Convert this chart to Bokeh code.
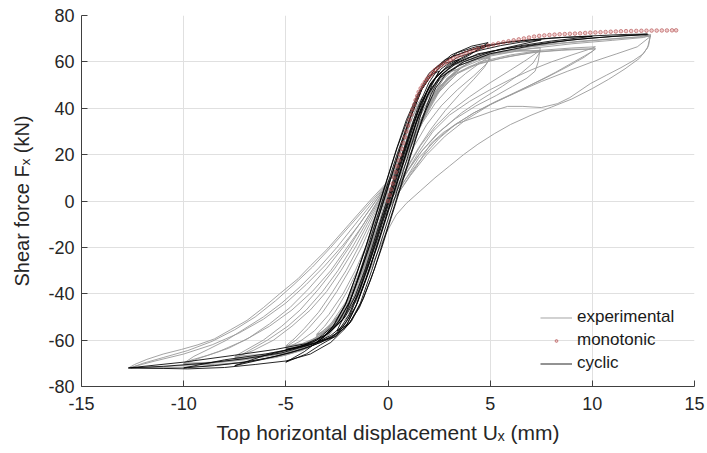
from bokeh.plotting import figure
from bokeh.models import Range1d, FixedTicker, Legend, LegendItem
from bokeh.embed import file_html
from bokeh.resources import INLINE

# ---------------- data ----------------
x_ticks = [-15, -10, -5, 0, 5, 10, 15]
y_ticks = [-80, -60, -40, -20, 0, 20, 40, 60, 80]
x_tick_labels = ["-15", "-10", "-5", "0", "5", "10", "15"]
y_tick_labels = ["-80", "-60", "-40", "-20", "0", "20", "40", "60", "80"]

# monotonic analysis (red points)
mono_x = [0.0, 0.08, 0.15, 0.23, 0.3, 0.38, 0.45, 0.53, 0.6, 0.68, 0.75, 0.83, 0.9, 0.98, 1.05, 1.13,
          1.2, 1.28, 1.35, 1.43, 1.5, 1.6, 1.7, 1.8, 1.9, 2.0, 2.1, 2.2, 2.3, 2.45, 2.6, 2.75, 2.9,
          3.05, 3.2, 3.4, 3.6, 3.8, 4.0, 4.2, 4.4, 4.65, 4.9, 5.15, 5.4, 5.65, 5.9, 6.15, 6.4, 6.65,
          6.9, 7.15, 7.4, 7.65, 7.9, 8.15, 8.4, 8.65, 8.9, 9.15, 9.4, 9.65, 9.9, 10.15, 10.4, 10.65,
          10.9, 11.15, 11.4, 11.65, 11.9, 12.15, 12.4, 12.65, 12.9, 13.15, 13.4, 13.65, 13.9, 14.1]
mono_y = [0.0, 2.5, 5.0, 7.5, 10.0, 12.5, 15.0, 17.5, 20.0, 22.5, 25.0, 27.5, 30.0, 32.5, 35.0, 37.3,
          39.5, 41.5, 43.5, 45.3, 47.0, 48.6, 50.0, 51.3, 52.5, 53.5, 54.5, 55.5, 56.5, 57.5, 58.5, 59.3, 60.0,
          60.8, 61.5, 62.3, 63.0, 63.8, 64.5, 65.1, 65.7, 66.4, 67.0, 67.5, 68.0, 68.5, 68.9, 69.3, 69.7, 70.1,
          70.5, 70.9, 71.2, 71.4, 71.6, 71.75, 71.9, 72.0, 72.1, 72.2, 72.3, 72.45, 72.6, 72.7, 72.8, 72.9,
          73.0, 73.1, 73.2, 73.25, 73.3, 73.35, 73.4, 73.45, 73.5, 73.5, 73.55, 73.55, 73.6, 73.6]

# experimental loops (grey), each a list of (U, F) points
exp_loop_1 = [(0.1, 9.5), (-0.9, 0), (-1.9, -10), (-3.0, -21), (-3.8, -28), (-4.4, -33.5), (-5.3, -40),
              (-6.1, -46), (-6.9, -51.5), (-7.7, -55.5), (-8.5, -59.5), (-9.3, -62), (-10.1, -64),
              (-11.0, -66), (-11.8, -68.3), (-12.4, -70.5), (-12.7, -72),
              (-11.0, -71.5), (-9.0, -70.3), (-7.0, -68.5), (-5.0, -65.5), (-3.6, -61), (-2.7, -55),
              (-2.0, -50), (-1.3, -38), (-0.7, -26), (-0.1, -14), (0.4, -6), (0.9, -1),
              (1.6, 4.5), (2.3, 10), (3.0, 15), (3.7, 20), (4.4, 24.5), (5.2, 29), (6.0, 33), (7.0, 37),
              (8.0, 40.5), (9.0, 44), (10.0, 48.5), (10.8, 52.5), (11.6, 57), (12.3, 61.5), (12.7, 66),
              (12.85, 71.5),
              (12.5, 70.5), (11.0, 69.3), (9.0, 67.8), (7.0, 65.8), (5.0, 62.5), (3.6, 57.5), (2.6, 50),
              (1.9, 39), (1.3, 27), (0.7, 17), (0.1, 9.5)]
exp_loop_2 = [(0.1, 9), (-0.8, 0), (-1.8, -10), (-2.8, -20), (-3.7, -28.5), (-4.6, -36), (-5.5, -43),
              (-6.5, -50), (-7.5, -55.5), (-8.6, -60.5), (-9.8, -64.5), (-11.0, -67.5), (-12.0, -70),
              (-12.6, -72),
              (-11.5, -72.2), (-10.0, -71.8), (-8.0, -70.5), (-6.0, -68), (-4.5, -64.5), (-3.3, -59.5),
              (-2.5, -53), (-1.9, -44), (-1.4, -34), (-0.9, -23), (-0.5, -13), (-0.2, -4),
              (0.4, 4), (1.0, 11), (1.6, 18), (2.1, 24.8), (2.7, 29.5), (3.4, 33.4), (4.5, 36.8),
              (5.2, 39), (5.85, 40.8), (6.6, 40.8), (7.5, 40.3), (8.3, 42), (8.9, 44.6), (9.9, 50.6),
              (10.7, 54.3), (11.4, 57.5), (12.0, 60.5), (12.5, 63.5), (12.75, 67), (12.85, 71.8),
              (12.3, 70.8), (10.5, 69.5), (8.5, 68), (6.5, 66), (4.7, 62.5), (3.4, 57), (2.5, 49),
              (1.8, 38), (1.2, 26), (0.6, 16), (0.1, 9)]
exp_loop_3 = [(0.1, 9), (-0.7, 0), (-1.6, -10), (-2.5, -20), (-3.4, -29), (-4.3, -37), (-5.2, -44),
              (-6.1, -50), (-7.0, -55), (-7.9, -60), (-8.8, -64), (-9.5, -67), (-10.0, -70),
              (-8.5, -69.5), (-7.0, -68), (-5.5, -65.5), (-4.0, -61.5), (-3.0, -56), (-2.2, -47),
              (-1.6, -37), (-1.1, -26), (-0.7, -16), (-0.2, -5),
              (0.4, 2), (1.0, 10), (1.7, 19), (2.5, 27), (3.3, 33), (4.2, 38), (5.2, 42.5), (6.2, 46.5),
              (7.2, 51), (8.2, 55.5), (9.0, 59.5), (9.6, 62.5), (10.0, 64.5), (10.15, 65.7),
              (8.5, 65), (7.0, 64), (5.5, 61.5), (4.0, 58), (3.0, 53), (2.2, 44), (1.6, 33), (1.0, 22),
              (0.5, 14), (0.1, 9)]
exp_loop_4 = [(0.1, 9), (-0.6, 0), (-1.4, -10), (-2.2, -20), (-3.0, -29), (-3.9, -38), (-4.8, -46),
              (-5.8, -53), (-6.8, -59), (-7.8, -63.5), (-8.8, -66.5), (-9.6, -68.5), (-10.0, -70),
              (-8.8, -70), (-7.3, -68.5), (-5.8, -66.5), (-4.4, -63), (-3.3, -58), (-2.4, -50),
              (-1.8, -40), (-1.3, -29), (-0.8, -18), (-0.3, -6),
              (0.3, 3), (0.9, 12), (1.5, 21), (2.2, 30), (3.0, 37), (4.0, 43), (5.0, 48), (6.0, 52.5),
              (7.0, 56.5), (8.0, 60), (9.0, 63), (9.8, 65.3), (10.15, 66.5),
              (9.0, 66), (7.5, 65), (6.0, 63), (4.5, 60), (3.3, 55), (2.4, 46), (1.7, 35), (1.1, 24),
              (0.6, 15), (0.1, 9)]
exp_loop_5 = [(0.1, 9), (-0.5, 0), (-1.2, -10), (-1.9, -20), (-2.6, -29), (-3.4, -38), (-4.3, -47),
              (-5.2, -54), (-6.1, -60), (-6.9, -64), (-7.5, -67),
              (-6.0, -66), (-4.8, -64), (-3.7, -60), (-2.8, -53), (-2.1, -44), (-1.5, -34), (-1.0, -23),
              (-0.6, -14), (-0.2, -5),
              (0.3, 3), (0.9, 12), (1.6, 21), (2.4, 29), (3.3, 35.5), (4.3, 41), (5.3, 45.5), (6.1, 49.5),
              (6.8, 53), (7.2, 56), (7.35, 60), (7.45, 66),
              (6.0, 65), (4.8, 63.5), (3.7, 60), (2.8, 54), (2.1, 44), (1.5, 33), (1.0, 23), (0.5, 15),
              (0.1, 9)]
exp_loop_6 = [(0.1, 9), (-0.4, 0), (-1.0, -10), (-1.6, -20), (-2.3, -30), (-3.0, -39), (-3.8, -47),
              (-4.7, -54), (-5.6, -60), (-6.6, -64.5), (-7.5, -67.5),
              (-6.2, -67), (-5.0, -65), (-3.9, -61.5), (-3.0, -56), (-2.3, -48), (-1.7, -38), (-1.2, -27),
              (-0.7, -16), (-0.2, -5),
              (0.4, 5), (1.0, 15), (1.6, 24), (2.3, 32), (3.1, 39), (4.0, 45), (5.0, 51), (6.0, 56.5),
              (6.8, 61), (7.45, 65),
              (6.2, 64.5), (5.0, 63), (3.9, 59.5), (2.9, 53), (2.2, 45), (1.6, 35), (1.1, 25), (0.6, 16),
              (0.1, 9)]
exp_loop_7 = [(0.1, 9), (-0.3, 0), (-0.8, -10), (-1.3, -20), (-1.9, -30), (-2.5, -39), (-3.2, -48),
              (-3.9, -55), (-4.5, -60), (-5.0, -63),
              (-4.0, -61.5), (-3.2, -58), (-2.5, -52), (-1.9, -43), (-1.4, -33), (-0.9, -22), (-0.5, -13),
              (-0.1, -3),
              (0.3, 5), (0.8, 15), (1.3, 24), (1.9, 33), (2.6, 41), (3.4, 48), (4.2, 54), (4.8, 59),
              (5.0, 62),
              (4.0, 61), (3.2, 58.5), (2.5, 53), (1.9, 44), (1.4, 34), (0.9, 24), (0.5, 16), (0.1, 9)]
exp_loop_8 = [(0.1, 9), (-0.25, 0), (-0.7, -10), (-1.1, -20), (-1.6, -30), (-2.2, -40), (-2.9, -49),
              (-3.6, -56), (-4.3, -60.5), (-5.0, -63.5),
              (-4.1, -62.5), (-3.3, -59.5), (-2.6, -54), (-2.0, -45), (-1.5, -35), (-1.0, -24), (-0.6, -14),
              (-0.1, -2),
              (0.3, 6), (0.7, 15), (1.2, 25), (1.7, 34), (2.3, 42), (3.0, 49), (3.8, 55), (4.5, 59.5),
              (5.0, 62.5),
              (4.1, 62), (3.3, 59.5), (2.6, 54.5), (2.0, 46), (1.5, 36), (1.0, 25), (0.5, 16), (0.1, 9)]
exp_loop_9 = [(0.1, 9), (-0.2, 0), (-0.55, -10), (-0.9, -20), (-1.3, -30), (-1.8, -40), (-2.4, -49),
              (-3.0, -55), (-3.5, -58),
              (-2.8, -55.5), (-2.2, -50), (-1.7, -42), (-1.2, -32), (-0.8, -22), (-0.4, -12), (-0.1, -2),
              (0.25, 6), (0.6, 15), (1.0, 25), (1.4, 34), (1.9, 42), (2.5, 49), (3.1, 54), (3.5, 57),
              (2.8, 55), (2.2, 49), (1.7, 41), (1.2, 31), (0.8, 22), (0.4, 14), (0.1, 9)]
exp_loop_10 = [(0.1, 9), (-0.15, 0), (-0.45, -10), (-0.75, -20), (-1.1, -30), (-1.5, -40), (-2.0, -47),
               (-2.5, -52),
               (-2.0, -48), (-1.6, -41), (-1.2, -32), (-0.8, -22), (-0.4, -12), (-0.1, -2),
               (0.2, 6), (0.5, 15), (0.85, 25), (1.2, 34), (1.6, 42), (2.1, 48), (2.5, 52),
               (2.0, 48), (1.6, 41), (1.2, 32), (0.8, 23), (0.4, 14), (0.1, 9)]
exp_loop_11 = [(0.1, 9), (-0.6, 0), (-1.4, -10), (-2.2, -19), (-3.1, -28), (-4.0, -36), (-5.0, -44),
               (-6.1, -51), (-7.3, -57), (-8.6, -62), (-10.0, -66), (-11.4, -69), (-12.7, -72),
               (-11.0, -72), (-9.0, -71.3), (-7.0, -69.5), (-5.0, -66.5), (-3.8, -63), (-2.9, -58),
               (-2.2, -50), (-1.6, -40), (-1.1, -29), (-0.6, -17), (-0.2, -7),
               (0.4, 2), (1.1, 11), (1.9, 20), (2.8, 28), (3.8, 35), (5.0, 41.5), (6.2, 46.5), (7.5, 51.5),
               (8.8, 56), (10.0, 60), (11.2, 63.5), (12.2, 66.5), (12.85, 71),
               (11.5, 70.3), (9.5, 69), (7.5, 67.3), (5.5, 64.5), (4.0, 60), (2.9, 53), (2.1, 42),
               (1.5, 31), (0.9, 20), (0.4, 13), (0.1, 9)]
exp_loop_12 = [(0.1, 9), (-0.5, 0), (-1.2, -10), (-2.0, -20), (-2.8, -30), (-3.7, -39), (-4.7, -47),
               (-5.8, -54), (-7.0, -60), (-8.3, -65), (-9.3, -68), (-10.0, -70.5),
               (-8.5, -70.5), (-7.0, -69.5), (-5.5, -67.5), (-4.2, -64.5), (-3.2, -60), (-2.4, -53),
               (-1.8, -44), (-1.3, -33), (-0.8, -21), (-0.3, -9),
               (0.3, 1), (0.9, 10), (1.5, 18.5), (2.3, 26), (3.2, 32.5), (4.2, 38), (5.3, 43), (6.5, 48),
               (7.7, 53), (8.8, 58), (9.6, 62), (10.15, 65.5),
               (9.0, 65.5), (7.5, 64.5), (6.0, 62.5), (4.5, 59.5), (3.4, 55), (2.5, 47), (1.8, 36),
               (1.2, 25), (0.6, 15), (0.1, 9)]
exp_loop_13 = [(0.1, 9), (-0.45, 0), (-1.1, -10), (-1.75, -20), (-2.45, -30), (-3.2, -39), (-4.0, -47),
               (-4.9, -54), (-5.9, -60), (-6.8, -64.5), (-7.5, -68),
               (-6.3, -67.5), (-5.0, -65.5), (-3.9, -62.5), (-3.0, -57.5), (-2.3, -50), (-1.7, -40),
               (-1.2, -29), (-0.7, -18), (-0.2, -6),
               (0.35, 4), (0.95, 13), (1.7, 22), (2.6, 30.5), (3.6, 38), (4.6, 44), (5.6, 49.5), (6.5, 55),
               (7.1, 59.5), (7.45, 64.5),
               (6.3, 65), (5.0, 63.5), (3.8, 60.5), (2.9, 55), (2.2, 47), (1.6, 37), (1.1, 26), (0.6, 16),
               (0.1, 9)]
exp_loop_14 = [(0.1, 9), (-0.35, 0), (-0.9, -10), (-1.45, -20), (-2.05, -30), (-2.7, -39), (-3.4, -48),
               (-4.1, -55), (-4.6, -59.5), (-5.0, -62.5),
               (-4.2, -61.5), (-3.4, -58.5), (-2.7, -53), (-2.1, -45), (-1.6, -35), (-1.1, -24), (-0.6, -13),
               (-0.15, -3),
               (0.35, 5), (0.9, 14), (1.5, 23), (2.1, 31), (2.8, 39), (3.5, 46), (4.2, 52.5), (4.7, 57.5),
               (5.0, 61.5),
               (4.2, 61), (3.4, 58), (2.7, 52.5), (2.1, 44), (1.5, 33), (1.0, 23), (0.5, 15), (0.1, 9)]
exp_loop_15 = [(0.1, 9), (-0.25, 0), (-0.65, -10), (-1.05, -20), (-1.5, -30), (-2.0, -39), (-2.6, -48),
               (-3.1, -54), (-3.5, -57.5),
               (-2.9, -55.5), (-2.3, -51), (-1.8, -44), (-1.3, -34), (-0.9, -24), (-0.45, -13), (-0.1, -3),
               (0.3, 6), (0.7, 16), (1.1, 26), (1.6, 35), (2.1, 43), (2.7, 50), (3.2, 54.5), (3.5, 57),
               (2.9, 55.5), (2.3, 50), (1.8, 42), (1.3, 32), (0.9, 23), (0.45, 14), (0.1, 9)]
exp_loop_16 = [(0.1, 9), (-0.1, 0), (-0.35, -10), (-0.6, -20), (-0.9, -30), (-1.25, -38), (-1.6, -44),
               (-1.5, -42), (-1.2, -35), (-0.9, -27), (-0.55, -17), (-0.25, -8), (-0.05, -1),
               (0.2, 7), (0.45, 16), (0.75, 25), (1.05, 33), (1.4, 40), (1.7, 45),
               (1.45, 42), (1.15, 35), (0.8, 26), (0.45, 17), (0.1, 9)]

# cyclic analysis loops (black)
cyc_loop_1 = [(-2.5, -56), (-1.9, -53), (-1.35, -44), (-0.8, -30), (-0.25, -15), (0.25, -1), (0.75, 13),
              (1.25, 27), (1.7, 40), (2.15, 50), (2.5, 56), (2.0, 54), (1.5, 46), (0.95, 33), (0.4, 19),
              (-0.1, 5), (-0.6, -9), (-1.1, -23), (-1.6, -37), (-2.05, -48), (-2.5, -56)]
cyc_loop_2 = [(-3.5, -61), (-2.7, -58.5), (-2.0, -54), (-1.4, -46), (-0.85, -34), (-0.3, -20), (0.2, -6),
              (0.7, 8), (1.2, 22), (1.65, 35), (2.1, 46), (2.6, 54), (3.1, 58.5), (3.5, 61), (2.8, 59.5),
              (2.15, 54.5), (1.55, 47), (1.0, 36), (0.45, 23), (-0.05, 9), (-0.55, -5), (-1.05, -19),
              (-1.55, -32), (-2.05, -44), (-2.6, -53), (-3.1, -58.5), (-3.5, -61)]
cyc_loop_3 = [(-5.0, -64), (-4.2, -62.5), (-3.5, -61), (-2.8, -58), (-2.1, -53), (-1.55, -45), (-1.05, -33),
              (-0.5, -19), (0.0, -5), (0.5, 9), (1.0, 23), (1.45, 36), (1.9, 47), (2.4, 54), (3.0, 59),
              (4.0, 63.5), (5.0, 67.5), (4.3, 66.5), (3.4, 64), (2.6, 59), (2.0, 51), (1.45, 40), (0.95, 27),
              (0.4, 13), (-0.1, -1), (-0.6, -15), (-1.1, -29), (-1.6, -41), (-2.2, -51), (-2.9, -57),
              (-3.6, -61.5), (-4.3, -63), (-5.0, -64)]
cyc_loop_4 = [(-5.0, -69.5), (-4.0, -66), (-3.3, -62), (-2.5, -58), (-1.9, -50), (-1.4, -39), (-0.9, -26),
              (-0.4, -12), (0.1, 2), (0.6, 16), (1.1, 30), (1.6, 42), (2.2, 52), (3.0, 58.5), (4.0, 63),
              (4.9, 68.3), (4.1, 66.8), (3.1, 63), (2.3, 57), (1.65, 48), (1.1, 36), (0.6, 23), (0.1, 9),
              (-0.4, -5), (-0.9, -19), (-1.4, -32), (-1.9, -44), (-2.5, -53), (-3.2, -59), (-4.1, -65),
              (-5.0, -69.5)]
cyc_loop_5 = [(-7.5, -71), (-6.0, -68), (-4.8, -65.5), (-3.6, -62), (-2.6, -58.5), (-1.8, -52), (-1.2, -42),
              (-0.65, -29), (-0.15, -15), (0.35, -1), (0.85, 13), (1.35, 27), (1.85, 39), (2.35, 49),
              (2.9, 55.5), (3.7, 60), (4.6, 63), (5.5, 65.5), (6.5, 67.5), (7.5, 69.5), (6.5, 68.5),
              (5.5, 67), (4.5, 65), (3.4, 62), (2.6, 57), (2.0, 49), (1.5, 39), (1.0, 26), (0.5, 12),
              (0.0, -2), (-0.5, -16), (-1.0, -29), (-1.5, -41), (-2.1, -50), (-2.9, -57), (-3.7, -61),
              (-4.8, -64), (-6.0, -66.5), (-7.5, -71)]
cyc_loop_6 = [(-10.0, -72), (-8.5, -71), (-7.0, -69.5), (-5.5, -67), (-4.2, -64), (-3.3, -61), (-2.5, -57),
              (-1.9, -49), (-1.4, -38), (-0.9, -25), (-0.4, -11), (0.1, 3), (0.6, 17), (1.1, 30), (1.6, 42),
              (2.1, 51), (2.8, 57), (3.8, 61.5), (5.0, 64.5), (6.5, 67), (8.0, 69), (10.0, 71), (8.5, 70.5),
              (7.0, 69.5), (5.5, 68), (4.0, 65), (2.8, 61), (2.0, 55), (1.45, 46), (0.9, 35), (0.4, 22),
              (-0.1, 8), (-0.6, -6), (-1.1, -20), (-1.6, -33), (-2.1, -45), (-2.7, -54), (-3.5, -60),
              (-4.5, -63.5), (-6.0, -66), (-8.0, -68.5), (-10.0, -72)]
cyc_loop_7 = [(-12.7, -72), (-11.0, -71.3), (-9.0, -70), (-7.0, -68), (-5.2, -65.5), (-3.8, -62), (-2.8, -59),
              (-2.0, -53), (-1.5, -44), (-1.0, -32), (-0.5, -18), (0.0, -4), (0.5, 10), (1.0, 24), (1.5, 37),
              (2.0, 47), (2.6, 54.5), (3.3, 59), (4.4, 63.5), (6.0, 66), (8.0, 68.5), (10.0, 70.3), (12.7, 72),
              (11.5, 71.8), (10.0, 71.2), (8.0, 70.3), (6.0, 68.8), (4.5, 66.5), (3.2, 62.5), (2.3, 57),
              (1.65, 48), (1.15, 37), (0.65, 24), (0.15, 10), (-0.35, -4), (-0.85, -18), (-1.35, -31),
              (-1.85, -43), (-2.4, -52), (-3.1, -58), (-4.0, -61.5), (-5.5, -64), (-7.5, -66.5),
              (-10.0, -69.5), (-12.7, -72)]
cyc_loop_8 = [(-12.6, -72), (-11.0, -72.2), (-9.8, -72.4), (-8.0, -71.8), (-6.5, -70.5), (-5.0, -69),
              (-3.8, -66), (-2.8, -61), (-2.1, -55), (-1.6, -46), (-1.1, -34), (-0.6, -21), (-0.1, -7),
              (0.4, 7), (0.9, 21), (1.4, 34), (1.9, 45), (2.5, 53), (3.5, 58.5), (5.0, 63.5), (7.0, 67),
              (9.0, 69.5), (11.0, 71), (12.75, 71.7)]

exp_loops = [exp_loop_1, exp_loop_2, exp_loop_3, exp_loop_4, exp_loop_5, exp_loop_6, exp_loop_7,
             exp_loop_8, exp_loop_9, exp_loop_10, exp_loop_11, exp_loop_12, exp_loop_13, exp_loop_14,
             exp_loop_15, exp_loop_16]
cyc_loops = [cyc_loop_1, cyc_loop_2, cyc_loop_3, cyc_loop_4, cyc_loop_5,
             cyc_loop_6, cyc_loop_7, cyc_loop_8]

# ---------------- figure ----------------
FONT = "Liberation Sans"
TXT = "#262626"

p = figure(width=707, height=453, x_range=Range1d(-15, 15), y_range=Range1d(-80, 80),
           output_backend="svg", toolbar_location=None,
           min_border_left=81, min_border_right=13, min_border_top=15, min_border_bottom=67)
p.outline_line_color = None
p.background_fill_color = "white"

exp_xs = [[pt[0] for pt in loop] for loop in exp_loops]
exp_ys = [[pt[1] for pt in loop] for loop in exp_loops]
cyc_xs = [[pt[0] for pt in loop] for loop in cyc_loops]
cyc_ys = [[pt[1] for pt in loop] for loop in cyc_loops]

r_exp = p.multi_line(exp_xs, exp_ys, line_color="#9a9a9a", line_width=1, line_alpha=0.9)
r_cyc = p.multi_line(cyc_xs, cyc_ys, line_color="black", line_width=1, line_alpha=0.85)
r_mono = p.scatter(mono_x, mono_y, marker="circle", size=3.6, fill_color="#d07070", fill_alpha=0.35,
                   line_color="#b04848", line_width=0.7, line_alpha=0.85)

for ax, ticks, labels in ((p.xaxis, x_ticks, x_tick_labels), (p.yaxis, y_ticks, y_tick_labels)):
    ax.ticker = FixedTicker(ticks=ticks)
    ax.major_label_overrides = {t: s for t, s in zip(ticks, labels)}
    ax.major_tick_in = 6
    ax.major_tick_out = 0
    ax.minor_tick_line_color = None
    ax.axis_line_color = "#404040"
    ax.major_tick_line_color = "#404040"
    ax.major_label_text_font = FONT
    ax.major_label_text_font_size = "18px"
    ax.major_label_text_color = TXT
    ax.axis_label_text_font = FONT
    ax.axis_label_text_font_style = "normal"
    ax.axis_label_text_color = TXT

p.xaxis.axis_label = "Top horizontal displacement U\u2093 (mm)"
p.yaxis.axis_label = "Shear force F\u2093 (kN)"
p.xaxis.axis_label_text_font_size = "21px"
p.yaxis.axis_label_text_font_size = "20px"
p.xaxis.major_label_standoff = 10
p.yaxis.major_label_standoff = 7
p.xaxis.axis_label_standoff = 8
p.yaxis.axis_label_standoff = 12

p.xgrid.ticker = FixedTicker(ticks=x_ticks)
p.ygrid.ticker = FixedTicker(ticks=y_ticks)
p.grid.grid_line_color = "#e0e0e0"
p.grid.grid_line_width = 1

legend = Legend(items=[LegendItem(label="experimental", renderers=[r_exp]),
                       LegendItem(label="monotonic", renderers=[r_mono]),
                       LegendItem(label="cyclic", renderers=[r_cyc])],
                location=(459, 13), border_line_color=None, background_fill_alpha=0,
                label_text_font=FONT, label_text_font_size="17px", label_text_color="#1a1a1a",
                glyph_width=32, glyph_height=7, label_height=20, spacing=3,
                padding=0, margin=0, label_standoff=5)
p.add_layout(legend)

open("out.html", "w").write(file_html(p, INLINE))
